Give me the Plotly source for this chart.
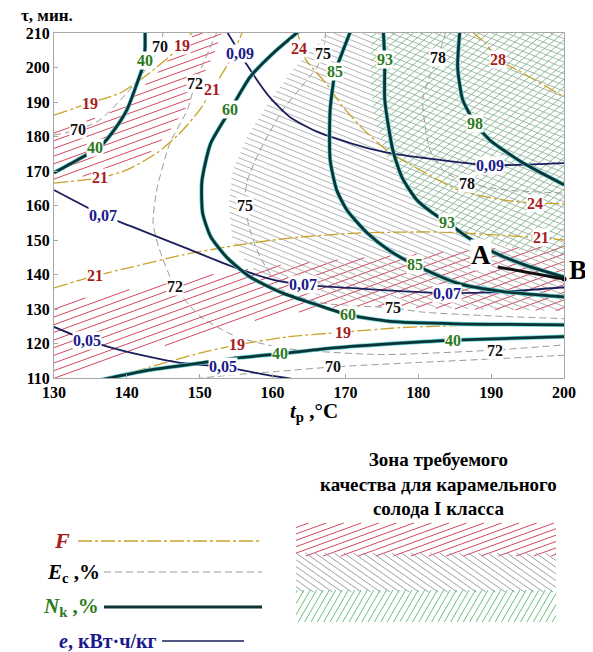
import numpy as np
import plotly.graph_objects as go

W, H = 593, 652          # target picture size
OFF = 8                  # page body margin offset
FW, FH = W - OFF, H - OFF
PL, PR, PT, PB = 54, 564, 33, 378
XR = [130, 200]
YR = [110, 210]
SX = (PR - PL) / (XR[1] - XR[0])
SY = (PB - PT) / (YR[1] - YR[0])

x_ticks = [130, 140, 150, 160, 170, 180, 190, 200]
y_ticks = [110, 120, 130, 140, 150, 160, 170, 180, 190, 200, 210]

# ---------------- N_k, % contours ----------------
N40a_x = [142.5, 142.5, 142.3, 141.5, 140.0, 138.3, 136.3, 133.2, 130.0]
N40a_y = [210.5, 206, 201, 196, 187.7, 182, 177, 173.2, 169.5]
N40b_x = [136.5, 143, 150, 155, 161, 168.3, 177.5, 184.8, 200]
N40b_y = [109.5, 112.3, 114.3, 115.8, 117, 118.7, 120.1, 121, 122]
N60_x = [163.6, 160, 156.9, 154.2, 151.5, 150.3, 150.4, 151.5, 153.7, 156.9, 161.4, 166.1, 170.4, 176.1, 185.3, 200]
N60_y = [210.5, 204, 197.2, 187.7, 178, 167, 157.8, 151, 145, 139.3, 134.6, 131.2, 128.3, 126.4, 125.7, 125.4]
N85_x = [170.7, 169.5, 168.6, 167.9, 167.9, 168.8, 170.2, 173, 176, 179.5, 185.3, 192.2, 200]
N85_y = [210.5, 204, 198.7, 187.7, 173.2, 164.5, 158.7, 152, 147, 142.8, 137.5, 134.9, 133.5]
N93_x = [175.2, 175.4, 175.4, 176.5, 177.8, 179.8, 182, 183.9, 186.7, 190.3, 195, 200]
N93_y = [210.5, 202.2, 190.6, 176.1, 168, 161.6, 157.8, 155.2, 150.9, 146.5, 142.5, 139.3]
N98_x = [185.7, 185.4, 186.1, 187.8, 189.8, 194.4, 200]
N98_y = [210.5, 200.1, 190.6, 183.9, 179, 172.3, 166]
AB_x = [190.9, 200]
AB_y = [142.2, 138.7]

# ---------------- e, kWh/kg contours ----------------
e09_x = [153.7, 155.5, 156.5, 159.6, 162.4, 166, 169.3, 172.4, 176.1, 183, 189.8, 200]
e09_y = [210.5, 204.2, 200.7, 191.4, 185.6, 181.5, 179, 177, 175.2, 173.2, 171.7, 172.3]
e07_x = [130, 136.7, 140.8, 147.7, 154.6, 160, 164.2, 170.6, 177.5, 183.9, 190, 200]
e07_y = [164.5, 157.2, 153.8, 148, 142.2, 138.5, 137, 136.1, 135.2, 134.6, 134.8, 136.3]
e05_x = [130, 134.5, 140.8, 147.7, 153.2, 159.2, 163.8]
e05_y = [124.8, 121, 117.2, 114.3, 113.2, 110.9, 109.4]

# ---------------- F contours ----------------
F19a_x = [130, 134.9, 139.1, 141.8, 144.1, 146.9, 149.1]
F19a_y = [186.2, 189.7, 192.6, 196.4, 200.1, 205.1, 210.5]
F21a_x = [130, 136.3, 140, 144.1, 147.3, 150, 151.7, 154.2, 155.9]
F21a_y = [166.5, 168, 170.3, 175.2, 181, 187.7, 193.5, 202.2, 210.5]
F24_x = [163.4, 164.5, 167.5, 169.5, 172.5, 176, 180.5, 185.5, 191.6, 196, 200]
F24_y = [210.5, 202.5, 195, 189, 182, 175.5, 170, 164.5, 161.6, 160.7, 160.5]
F28_x = [187.3, 189.2, 191, 194, 200]
F28_y = [210.5, 207, 202.2, 198.8, 191.5]
F21b_x = [130, 135.6, 140.8, 147.7, 156.9, 163, 171.6, 183, 196.9, 200]
F21b_y = [136.1, 139.6, 142.2, 145.7, 149.1, 150.7, 152, 152.3, 150.6, 150]
F19b_x = [137.7, 143.2, 150, 155.1, 162, 169.7, 177.5, 185.3, 190]
F19b_y = [109.4, 113.2, 117.2, 119.6, 121.9, 123.3, 124.6, 125.2, 125.4]

# ---------------- E_c, % contours ----------------
E70a_x = [130, 133.3, 136.3, 140, 142.8, 144.5, 145]
E70a_y = [180.4, 181.9, 184.8, 192.6, 200.1, 206, 210.5]
E72_x = [152.4, 149.4, 148.3, 145.9, 144.1, 143.6, 144.5, 146.6, 150, 155, 162, 175, 190.5, 200]
E72_y = [210.5, 195.5, 187.7, 178, 164.5, 154.9, 147.1, 136.4, 128, 122, 118.5, 116.8, 118.1, 119.6]
E70b_x = [148, 155, 160, 168.3, 180, 190, 200]
E70b_y = [109.5, 111, 111.8, 113.2, 114.5, 115.5, 116.6]
E75_x = [167.3, 166.9, 166.1, 163.8, 161.4, 158.3, 156.5, 156.2, 156.9, 158.3, 161.4, 166.9, 176.5, 180.6, 190, 200]
E75_y = [210.5, 204.2, 200.1, 194, 187.7, 176.1, 167, 160.1, 152.9, 145, 135.5, 131.7, 130.3, 129.1, 128, 127.2]
E78_x = [183.8, 182.7, 181.5, 180.6, 181.6, 183.5, 186.7, 192, 200]
E78_y = [210.5, 203, 197, 190.6, 176.1, 170, 166.5, 164.5, 163.6]

# ---------------- quality zones ----------------
red_ul_x = [130, 134, 137, 140, 142, 144, 146, 148, 149.5, 153, 152, 150, 148, 146, 144, 142, 137, 130]
red_ul_y = [182, 184.5, 186, 190, 194, 198, 203, 207, 210, 210, 204, 196, 188, 182, 177, 173, 170, 166.5]
red_lo_x = [130, 140, 150, 160, 170, 180, 190, 200, 200, 185, 170, 160, 150, 140, 135, 132, 130]
red_lo_y = [131.5, 135.5, 139.5, 142.5, 144.5, 146, 147.5, 148.5, 129.5, 130, 131, 128, 122.5, 116, 112.5, 110, 110]
gray_x = [167.5, 163, 159.5, 156.5, 154.5, 154, 154.5, 156.5, 159.5, 164, 170, 178, 188, 200, 200]
gray_y = [210, 200, 190, 180, 170, 160, 150, 143, 138.5, 135, 132.5, 131, 130, 129.5, 210]
green_x = [173.5, 173.5, 174, 175.5, 178, 182, 188, 194, 200, 200]
green_y = [210, 195, 185, 175, 165, 157, 150.5, 147, 145.5, 210]

# ---------------- contour labels ----------------
F_lab = [("19", 134.9, 189.6), ("19", 147.6, 206.3), ("21", 151.7, 193.5), ("21", 136.3, 168.2),
         ("24", 163.6, 205.6), ("28", 191.0, 202.2), ("24", 196.0, 160.7), ("21", 196.9, 150.6),
         ("21", 135.6, 139.6), ("19", 155.1, 119.6), ("19", 169.7, 123.3)]
E_lab = [("70", 133.3, 181.9), ("70", 144.5, 206.0), ("72", 149.4, 195.5), ("75", 166.9, 204.2),
         ("78", 182.7, 203.0), ("78", 186.7, 166.5), ("75", 156.2, 160.1), ("72", 146.6, 136.4),
         ("75", 176.5, 130.3), ("72", 190.5, 118.1), ("70", 168.3, 113.2)]
N_lab = [("40", 142.5, 202.0), ("40", 135.6, 176.7), ("60", 154.2, 187.7), ("85", 168.6, 198.7),
         ("93", 175.4, 202.2), ("98", 187.8, 183.9), ("93", 183.9, 155.2), ("85", 179.5, 142.8),
         ("60", 170.4, 128.3), ("40", 161.0, 117.0), ("40", 184.8, 121.0)]
e_lab = [("0,09", 155.5, 204.2), ("0,09", 189.8, 171.7), ("0,07", 136.7, 157.2), ("0,07", 164.2, 137.0),
         ("0,07", 183.9, 134.6), ("0,05", 134.5, 121.0), ("0,05", 153.2, 113.2)]

legend_names = ["<b><i>F</i></b>", "<b><i>E</i><sub>c</sub> ,%</b>", "<b><i>N</i><sub>k</sub> ,%</b>",
                "<b><i>e</i>, кВт·ч/кг</b>"]
zone_title = "<b>Зона требуемого<br>качества для карамельного<br>солода I класса</b>"

# ---------------- styles ----------------
C_F = "#c9a227"
C_E = "#9a9a9a"
C_N = "#0c3436"
C_NH = "#5fd0d0"
C_e = "#1b1f5e"
C_red = "#d4475f"
C_gray = "#a0a0a0"
C_green = "#6cbf80"
T_F = "#a81c1c"
T_N = "#2c7a22"
T_e = "#1a1a8c"
SERIF = "Liberation Serif"
DASH_F = "14px,3px,3px,3px"
DASH_E = "7px,4px"


def hatch(px, py, angle, spacing, sx, sy):
    u = np.asarray(px, float) * sx
    v = np.asarray(py, float) * sy
    th = np.radians(angle)
    d = np.array([np.cos(th), np.sin(th)])
    n = np.array([-np.sin(th), np.cos(th)])
    pn = u * n[0] + v * n[1]
    pd = u * d[0] + v * d[1]
    m = len(u)
    xs, ys = [], []
    c = np.floor(pn.min() / spacing) * spacing + spacing / 2
    while c <= pn.max():
        ts = []
        for i in range(m):
            j = (i + 1) % m
            a, b = pn[i] - c, pn[j] - c
            if (a > 0) != (b > 0):
                f = a / (a - b)
                ts.append(pd[i] + f * (pd[j] - pd[i]))
        ts.sort()
        for k in range(0, len(ts) - 1, 2):
            for t in (ts[k], ts[k + 1]):
                xs.append((c * n[0] + t * d[0]) / sx)
                ys.append((c * n[1] + t * d[1]) / sy)
            xs.append(None)
            ys.append(None)
        c += spacing
    return xs, ys


fig = go.Figure()


def add_line(x, y, color, width, dash=None, ax="x", ay="y", shape="spline"):
    fig.add_trace(go.Scatter(x=x, y=y, mode="lines", xaxis=ax, yaxis=ay, hoverinfo="skip",
                             line=dict(color=color, width=width, dash=dash, shape=shape,
                                       smoothing=0.6 if shape == "spline" else None)))


# hatch zones in plot
for (zx, zy, ang, sp, col, wd) in [(red_ul_x, red_ul_y, 20, 7.2, C_red, 1.0),
                                   (red_lo_x, red_lo_y, 20, 7.2, C_red, 1.0),
                                   (gray_x, gray_y, -22, 5.4, C_gray, 0.8),
                                   (green_x, green_y, 40, 6.0, C_green, 0.9)]:
    hx, hy = hatch(zx, zy, ang, sp, SX, SY)
    add_line(hx, hy, col, wd, shape="linear")

# E_c
for x, y in [(E70a_x, E70a_y), (E72_x, E72_y), (E70b_x, E70b_y), (E75_x, E75_y), (E78_x, E78_y)]:
    add_line(x, y, C_E, 1.0, DASH_E)
# F
for x, y in [(F19a_x, F19a_y), (F21a_x, F21a_y), (F24_x, F24_y), (F28_x, F28_y),
             (F21b_x, F21b_y), (F19b_x, F19b_y)]:
    add_line(x, y, C_F, 1.3, DASH_F)
# e
for x, y in [(e09_x, e09_y), (e07_x, e07_y), (e05_x, e05_y)]:
    add_line(x, y, C_e, 1.8)
# N_k with halo
for x, y in [(N40a_x, N40a_y), (N40b_x, N40b_y), (N60_x, N60_y), (N85_x, N85_y),
             (N93_x, N93_y), (N98_x, N98_y)]:
    add_line(x, y, C_NH, 4.2)
    add_line(x, y, C_N, 2.8)
add_line(AB_x, AB_y, "#111111", 3.0, shape="linear")
fig.add_trace(go.Scatter(x=AB_x[-1:], y=AB_y[-1:], mode="markers", hoverinfo="skip",
                         marker=dict(color="#111111", size=5), cliponaxis=False))

# ---------------- legend (pixel axes x2/y2, page pixels) ----------------
leg_rows = [(541, 78, 262, C_F, 1.3, DASH_F), (572, 104, 262, C_E, 1.0, DASH_E),
            (607, 104, 262, C_N, 3.0, None), (641, 162, 244, C_e, 1.6, None)]
for (yy, xa, xb, col, wd, ds) in leg_rows:
    add_line([xa, xb], [yy, yy], col, wd, ds, ax="x2", ay="y2", shape="linear")

SW_L, SW_R = 296, 556
sw_red = ([SW_L, SW_R, SW_R, SW_L], [523, 523, 556, 556], 20, 6.0, C_red)
sw_gray = ([SW_L, SW_R, SW_R, SW_L], [553, 553, 592, 592], -35, 5.5, C_gray)
sw_green = ([SW_L, SW_R, SW_R, SW_L], [590, 590, 622, 622], 60, 5.5, C_green)
for (zx, zy, ang, sp, col) in [sw_red, sw_gray, sw_green]:
    hx, hy = hatch(zx, zy, ang, sp, 1.0, -1.0)
    add_line(hx, hy, col, 1.0, ax="x2", ay="y2", shape="linear")

ann = []


def lab(txt, x, y, color, size=16, bg="white"):
    ann.append(dict(text="<b>" + txt + "</b>", x=x, y=y, xref="x", yref="y", showarrow=False,
                    font=dict(family=SERIF, size=size, color=color), bgcolor=bg, borderpad=0))


for t, x, y in F_lab:
    lab(t, x, y, T_F)
for t, x, y in E_lab:
    lab(t, x, y, "#111111")
for t, x, y in N_lab:
    lab(t, x, y, T_N)
for t, x, y in e_lab:
    lab(t, x, y, T_e)
lab("A", 188.6, 145.7, "#000000", size=27)


def pix(txt, x, y, color="#000000", size=18, align="center", xanchor="center"):
    ann.append(dict(text=txt, x=x, y=y, xref="x2", yref="y2", showarrow=False, align=align,
                    xanchor=xanchor, yanchor="middle", borderpad=0,
                    font=dict(family=SERIF, size=size, color=color)))


pix("<b>B</b>", 578, 270, size=27)
pix("<b>τ, мин.</b>", 47, 15, size=17)
pix("<b><i>t</i><sub>p</sub> ,°C</b>", 314, 412, size=21)
pix(legend_names[0], 62, 540, T_F, 22)
pix(legend_names[1], 101, 573, "#000000", 21, xanchor="right")
pix(legend_names[2], 100, 607, T_N, 21, xanchor="right")
pix(legend_names[3], 158, 641, T_e, 20, xanchor="right")
pix(zone_title, 438, 484, "#000000", 19)

axis_common = dict(showgrid=False, zeroline=False, showline=True, linecolor="#a8a8a8", linewidth=1,
                   mirror=True, ticks="inside", ticklen=4, tickcolor="#a8a8a8", automargin=False,
                   tickfont=dict(family=SERIF, size=16, color="#000000", weight="bold"))

fig.update_layout(
    width=FW, height=FH, margin=dict(l=0, r=0, t=0, b=0, pad=0, autoexpand=False),
    paper_bgcolor="white", plot_bgcolor="rgba(0,0,0,0)", showlegend=False,
    xaxis=dict(domain=[(PL - OFF) / FW, (PR - OFF) / FW], range=XR, tickvals=x_ticks, anchor="y",
               **axis_common),
    yaxis=dict(domain=[1 - (PB - OFF) / FH, 1 - (PT - OFF) / FH], range=YR, tickvals=y_ticks,
               anchor="x", **axis_common),
    xaxis2=dict(domain=[0, 1], range=[OFF, FW + OFF], visible=False, anchor="y2", fixedrange=True,
                automargin=False),
    yaxis2=dict(domain=[0, 1], range=[FH + OFF, OFF], visible=False, anchor="x2", fixedrange=True,
                automargin=False),
    annotations=ann,
)

fig.write_html("out.html")
